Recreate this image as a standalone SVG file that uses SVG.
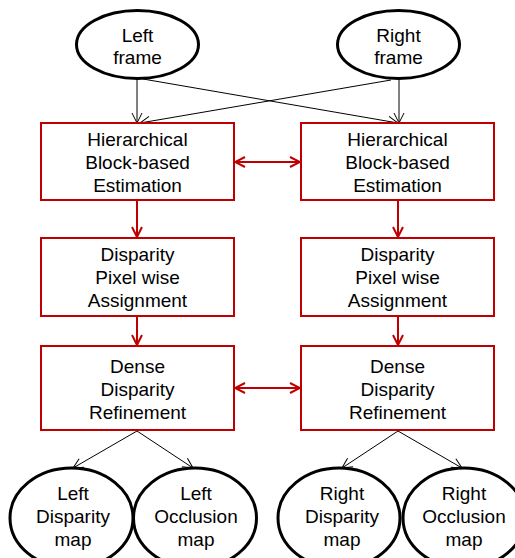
<svg xmlns="http://www.w3.org/2000/svg" width="515" height="558" viewBox="0 0 515 558">
<defs>
<style>
.ell{fill:#fff;stroke:#000;stroke-width:3}
.box{fill:#fff;stroke:#c00000;stroke-width:2}
.t{font-family:"Liberation Sans",Arial,sans-serif;font-size:19px;fill:#000;text-anchor:middle}
.thin{stroke:#000;stroke-width:1;fill:none}
.red{stroke:#c00000;stroke-width:2;fill:none}
</style>
<marker id="ab" viewBox="0 0 12 12" refX="11" refY="6" markerWidth="12" markerHeight="12" markerUnits="userSpaceOnUse" orient="auto-start-reverse">
<path d="M1,1 L11,6 L1,11" fill="none" stroke="#000" stroke-width="1"/>
</marker>
<marker id="ar" viewBox="0 0 12 12" refX="11" refY="6" markerWidth="12" markerHeight="12" markerUnits="userSpaceOnUse" orient="auto-start-reverse">
<path d="M1,1 L11,6 L1,11" fill="none" stroke="#c00000" stroke-width="2"/>
</marker>
</defs>
<rect width="515" height="558" fill="#fff"/>
<g id="connectors">
<line class="thin" x1="137" y1="79" x2="137" y2="123" marker-end="url(#ab)"/>
<line class="thin" x1="143" y1="79" x2="398" y2="123" marker-end="url(#ab)"/>
<line class="thin" x1="399" y1="80" x2="399" y2="123" marker-end="url(#ab)"/>
<line class="thin" x1="391" y1="80" x2="140" y2="123" marker-end="url(#ab)"/>
<line class="red" x1="235" y1="162" x2="300" y2="162" marker-start="url(#ar)" marker-end="url(#ar)"/>
<line class="red" x1="137" y1="200" x2="137" y2="237" marker-end="url(#ar)"/>
<line class="red" x1="398" y1="200" x2="398" y2="237" marker-end="url(#ar)"/>
<line class="red" x1="137" y1="316" x2="137" y2="345" marker-end="url(#ar)"/>
<line class="red" x1="398" y1="316" x2="398" y2="345" marker-end="url(#ar)"/>
<line class="red" x1="235" y1="388" x2="300" y2="388" marker-start="url(#ar)" marker-end="url(#ar)"/>
<line class="thin" x1="137" y1="431" x2="73" y2="468" marker-end="url(#ab)"/>
<line class="thin" x1="137" y1="431" x2="193" y2="468" marker-end="url(#ab)"/>
<line class="thin" x1="398" y1="431" x2="342" y2="468" marker-end="url(#ab)"/>
<line class="thin" x1="398" y1="431" x2="462" y2="468" marker-end="url(#ab)"/>
</g>
<g id="left-frame">
<ellipse class="ell" cx="137.5" cy="44.5" rx="61" ry="34"/>
<text class="t" x="137.5" y="42">Left</text>
<text class="t" x="137.5" y="64">frame</text>
</g>
<g id="right-frame">
<ellipse class="ell" cx="398.5" cy="44.5" rx="61" ry="34"/>
<text class="t" x="398.5" y="42">Right</text>
<text class="t" x="398.5" y="64">frame</text>
</g>
<g id="left-hbe">
<rect class="box" x="41" y="123" width="193" height="77"/>
<text class="t" x="137.5" y="146">Hierarchical</text>
<text class="t" x="137.5" y="169">Block-based</text>
<text class="t" x="137.5" y="191.5">Estimation</text>
</g>
<g id="right-hbe">
<rect class="box" x="301" y="123" width="193" height="77"/>
<text class="t" x="397.5" y="146">Hierarchical</text>
<text class="t" x="397.5" y="169">Block-based</text>
<text class="t" x="397.5" y="191.5">Estimation</text>
</g>
<g id="left-dpa">
<rect class="box" x="41" y="238" width="193" height="78"/>
<text class="t" x="137.5" y="261">Disparity</text>
<text class="t" x="137.5" y="284">Pixel wise</text>
<text class="t" x="137.5" y="306.5">Assignment</text>
</g>
<g id="right-dpa">
<rect class="box" x="301" y="238" width="193" height="78"/>
<text class="t" x="397.5" y="261">Disparity</text>
<text class="t" x="397.5" y="284">Pixel wise</text>
<text class="t" x="397.5" y="306.5">Assignment</text>
</g>
<g id="left-ddr">
<rect class="box" x="41" y="346" width="193" height="84"/>
<text class="t" x="137.5" y="373">Dense</text>
<text class="t" x="137.5" y="396">Disparity</text>
<text class="t" x="137.5" y="419">Refinement</text>
</g>
<g id="right-ddr">
<rect class="box" x="301" y="346" width="193" height="84"/>
<text class="t" x="397.5" y="373">Dense</text>
<text class="t" x="397.5" y="396">Disparity</text>
<text class="t" x="397.5" y="419">Refinement</text>
</g>
<g id="left-disparity-map">
<ellipse class="ell" cx="71.5" cy="518" rx="61.5" ry="50"/>
<text class="t" x="73" y="500">Left</text>
<text class="t" x="73" y="523">Disparity</text>
<text class="t" x="73" y="545.5">map</text>
</g>
<g id="left-occlusion-map">
<ellipse class="ell" cx="195" cy="518" rx="61.5" ry="50"/>
<text class="t" x="196" y="500">Left</text>
<text class="t" x="196" y="523">Occlusion</text>
<text class="t" x="196" y="545.5">map</text>
</g>
<g id="right-disparity-map">
<ellipse class="ell" cx="339" cy="518" rx="61" ry="50"/>
<text class="t" x="342" y="500">Right</text>
<text class="t" x="342" y="523">Disparity</text>
<text class="t" x="342" y="545.5">map</text>
</g>
<g id="right-occlusion-map">
<ellipse class="ell" cx="464" cy="518" rx="61" ry="50"/>
<text class="t" x="464" y="500">Right</text>
<text class="t" x="464" y="523">Occlusion</text>
<text class="t" x="464" y="545.5">map</text>
</g>
</svg>
